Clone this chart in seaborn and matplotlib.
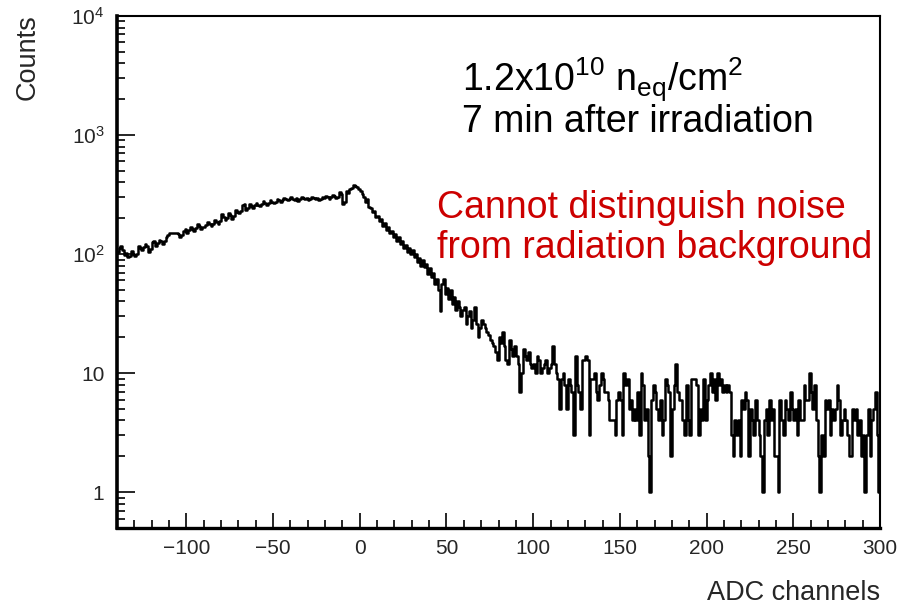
import numpy as np
import pandas as pd
import matplotlib
matplotlib.use("Agg")
import matplotlib.pyplot as plt
from matplotlib import ticker
import seaborn as sns

# ---- data ----
bin_low = -140
bin_high = 300
bin_width = 1
counts = [
    104, 112, 116, 108, 98, 102, 94, 97, 106, 100,      # -140..-130
    96, 100, 118, 112, 108, 114, 122, 118, 104, 110,    # -130..-120
    126, 130, 118, 124, 132, 128, 122, 128, 140, 146,   # -120..-110
    150, 150, 151, 150, 149, 148, 140, 144, 156, 162,   # -110..-100
    150, 158, 170, 164, 156, 166, 178, 172, 162, 168,   # -100..-90
    170, 176, 186, 178, 172, 180, 192, 186, 180, 190,   # -90..-80
    216, 206, 192, 200, 220, 212, 196, 210, 236, 226,   # -80..-70
    220, 230, 256, 266, 236, 246, 262, 252, 244, 256,   # -70..-60
    270, 260, 254, 262, 278, 270, 258, 268, 282, 276,   # -60..-50
    270, 276, 290, 282, 276, 284, 298, 290, 284, 292,   # -50..-40
    300, 292, 286, 294, 280, 288, 300, 296, 290, 294,   # -40..-30
    282, 290, 304, 296, 290, 298, 286, 292, 300, 296,   # -30..-20
    310, 302, 292, 300, 316, 308, 296, 304, 330, 322,   # -20..-10
    262, 276, 336, 326, 350, 356, 378, 370, 364, 350,   # -10..0
    336, 318, 300, 276, 288, 250, 246, 224, 228, 204,   # 0..10
    210, 188, 196, 172, 182, 160, 168, 150, 156, 140,   # 10..20
    148, 128, 138, 122, 130, 112, 120, 104, 112, 100,   # 20..30
    108, 94, 100, 86, 92, 80, 90, 78, 82, 68,           # 30..40
    76, 64, 70, 56, 62, 50, 33, 56, 62, 46,             # 40..50
    52, 42, 50, 38, 44, 34, 40, 36, 30, 34,             # 50..60
    36, 26, 30, 33, 24, 28, 36, 26, 20, 24,             # 60..70
    28, 26, 24, 22, 21, 19, 18, 17, 15, 13,             # 70..80
    20, 18, 22, 17, 13, 12, 19, 16, 14, 17,             # 80..90
    14, 12, 7, 10, 16, 14, 13, 15, 12, 11,              # 90..100
    12, 10, 14, 13, 10, 11, 12, 13, 10, 11,             # 100..110
    12, 17, 12, 10, 9, 5, 9, 10, 8, 5,                  # 110..120
    9, 8, 7, 3, 14, 8, 7, 5, 13, 13,                    # 120..130
    14, 13, 3, 9, 9, 10, 7, 6, 8, 10,                   # 130..140
    9, 7, 7, 6, 4, 4, 4, 3, 6, 7,                       # 140..150
    6, 3, 10, 8, 9, 5, 6, 4, 5, 4,                      # 150..160
    7, 3, 10, 8, 4, 5, 2, 1, 6, 8,                      # 160..170
    7, 5, 4, 6, 3, 4, 9, 8, 7, 2,                       # 170..180
    5, 8, 12, 7, 6, 6, 4, 3, 8, 4,                      # 180..190
    3, 9, 9, 9, 8, 3, 5, 4, 9, 4,                       # 190..200
    6, 8, 10, 7, 9, 6, 10, 8, 9, 7,                     # 200..210
    8, 7, 8, 7, 3, 2, 4, 3, 4, 2,                       # 210..220
    6, 5, 7, 6, 2, 5, 4, 3, 6, 4,                       # 220..230
    3, 2, 1, 4, 5, 3, 6, 4, 5, 2,                       # 230..240
    2, 1, 6, 4, 3, 6, 5, 4, 7, 5,                       # 240..250
    4, 5, 3, 6, 4, 4, 8, 6, 6, 10,                      # 250..260
    7, 5, 8, 4, 2, 1, 3, 2, 6, 5,                       # 260..270
    6, 3, 5, 4, 5, 8, 6, 3, 4, 5,                       # 270..280
    4, 3, 2, 2, 5, 4, 5, 3, 4, 2,                       # 280..290
    3, 1, 3, 5, 2, 4, 5, 7, 3, 1,                       # 290..300
]
x_ticks = [-100, -50, 0, 50, 100, 150, 200, 250, 300]
y_ticks = [1, 10, 100, 1000, 10000]
y_tick_labels = ["1", "10", r"$10^{2}$", r"$10^{3}$", r"$10^{4}$"]
x_title = "ADC channels"
y_title = "Counts"
info_lines = [r"1.2x10$^{10}$ n$_{\rm eq}$/cm$^{2}$", "7 min after irradiation"]
note_lines = ["Cannot distinguish noise", "from radiation background"]

centers = np.arange(bin_low, bin_high, bin_width) + bin_width / 2
df = pd.DataFrame({"adc": centers, "counts": np.array(counts, dtype=float)})

# ---- style ----
sns.set_style("ticks")
from matplotlib import font_manager
names = {f.name for f in font_manager.fontManager.ttflist}
base = "Liberation Sans" if "Liberation Sans" in names else "DejaVu Sans"
plt.rcParams["font.family"] = [base, "DejaVu Sans"]
plt.rcParams["mathtext.fontset"] = "custom"
plt.rcParams["mathtext.rm"] = base
plt.rcParams["mathtext.it"] = base + ":italic"
plt.rcParams["mathtext.bf"] = base + ":bold"
plt.rcParams["mathtext.default"] = "regular"

fig = plt.figure(figsize=(8.99, 6.08), dpi=100)
ax = fig.add_axes([117 / 899, 1 - 528 / 608, (880 - 117) / 899, (528 - 16) / 608])

sns.histplot(data=df, x="adc", weights="counts", binwidth=bin_width,
             binrange=(bin_low, bin_high), element="step",
             fill=False, color="black", linewidth=1.8, ax=ax)

ax.set_yscale("log")
ax.set_xlim(bin_low, bin_high)
ax.set_ylim(0.5, 1e4)

ax.set_xticks(x_ticks)
ax.xaxis.set_minor_locator(ticker.MultipleLocator(10))
ax.set_yticks(y_ticks)
ax.set_yticklabels(y_tick_labels)
ax.yaxis.set_minor_locator(ticker.LogLocator(base=10, subs=np.arange(2, 10)))
ax.yaxis.set_minor_formatter(ticker.NullFormatter())

ax.tick_params(axis="x", which="major", direction="in", length=11, width=1.4,
               labelsize=15, pad=8, top=False)
ax.tick_params(axis="x", which="minor", direction="in", length=5.5, width=1.4, top=False)
ax.tick_params(axis="y", which="major", direction="in", length=13, width=1.4,
               labelsize=15, pad=9, right=False)
ax.tick_params(axis="y", which="minor", direction="in", length=6, width=1.4, right=False)

for side, lw in [("left", 2.6), ("bottom", 2.4), ("top", 1.5), ("right", 1.5)]:
    ax.spines[side].set_visible(True)
    ax.spines[side].set_linewidth(lw)
    ax.spines[side].set_color("black")

ax.set_xlabel("")
ax.set_ylabel("")
fig.text(880 / 899, 1 - 593 / 608, x_title, ha="right", va="center", fontsize=19.5)
fig.text(28 / 899, 1 - 14 / 608, y_title, ha="center", va="top", rotation=90, fontsize=19.5)

fig.text(462 / 899, 1 - 80 / 608, info_lines[0], ha="left", va="center", fontsize=27, color="black")
fig.text(462 / 899, 1 - 122 / 608, info_lines[1], ha="left", va="center", fontsize=27, color="black")
fig.text(437 / 899, 1 - 208 / 608, note_lines[0], ha="left", va="center", fontsize=27, color="#cc0000")
fig.text(437 / 899, 1 - 248 / 608, note_lines[1], ha="left", va="center", fontsize=27, color="#cc0000")

fig.savefig("out.png", dpi=100)
